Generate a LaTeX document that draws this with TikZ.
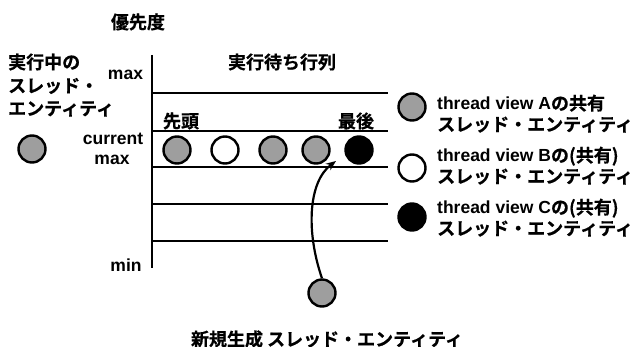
\documentclass[tikz,border=0pt]{standalone}
\usepackage{fontspec}
\setmainfont{Liberation Sans}
\newfontfamily\jp{Noto Sans CJK JP}[BoldFont={* Bold}, BoldFeatures={FakeBold=0.6}]
\usetikzlibrary{arrows.meta}
\begin{document}
\begin{tikzpicture}[x=1pt,y=-1pt,
  lt/.style={inner sep=0pt,font=\bfseries\fontsize{17.5}{20}\selectfont},
  jt/.style={inner sep=0pt,font=\jp\bfseries\fontsize{18}{21}\selectfont},
  ent/.style={circle,draw=black,line width=2.4pt,minimum size=27pt,inner sep=0pt},
  entA/.style={ent,fill=black!38},
  entB/.style={ent,fill=white},
  entC/.style={ent,fill=black},
  rule/.style={line width=2.4pt},
]
\useasboundingbox (0,0) rectangle (637,347);
% axis
\coordinate (axtop) at (152,55);
\coordinate (axbot) at (152,268);
\draw[rule] (axtop) -- (axbot);
\foreach \yy/\nm in {93/l1,131/l2,167/l3,204/l4,241/l5}{
  \coordinate (\nm w) at (152,\yy);
  \coordinate (\nm e) at (388,\yy);
  \draw[rule] (\nm w) -- (\nm e);
}
% texts
\node[jt] (prio) at (138,22) {優先度};
\node[jt,anchor=west] (run1) at (8,62) {実行中の};
\node[jt,anchor=west] (run2) at (8,86) {スレッド・};
\node[jt,anchor=west] (run3) at (8,109) {エンティティ};
\node[jt] (queue) at (282,62) {実行待ち行列};
\node[lt,anchor=base] (maxl) at (125.5,80) {max};
\node[lt,anchor=base] (cur1) at (113,145) {current};
\node[lt,anchor=base] (cur2) at (112,165) {max};
\node[lt,anchor=base] (minl) at (126,272) {min};
\node[jt] (head) at (181,121) {先頭};
\node[jt] (tail) at (356,121) {最後};
% running entity
\node[entA] (running) at (32,149) {};
% queue entities
\node[entA] (q1) at (177,150) {};
\node[entB] (q2) at (225,150) {};
\node[entA] (q3) at (273,150) {};
\node[entA] (q4) at (316,150) {};
\node[entC] (q5) at (359,150) {};
% new entity
\node[entA] (new) at (322,293) {};
\node[jt] (newl) at (327,339) {新規生成 スレッド・エンティティ};
\coordinate (ins) at (336,161);
\draw[line width=2.2pt,-{Stealth[length=10pt,width=8pt]}] (new.north) .. controls (306,232) and (308,182) .. (ins);
% legend
\node[entA] (la) at (412,107) {};
\node[entB] (lb) at (412,168) {};
\node[entC] (lc) at (412,217) {};
\node[anchor=base west,inner sep=0pt] (ta1) at (437,110) {\bfseries\fontsize{17.5}{20}\selectfont thread view A{\jp\bfseries\fontsize{18}{21}\selectfont の共有}};
\node[jt,anchor=base west] (ta2) at (437,131) {スレッド・エンティティ};
\node[anchor=base west,inner sep=0pt] (tb1) at (437,162) {\bfseries\fontsize{17.5}{20}\selectfont thread view B{\jp\bfseries\fontsize{18}{21}\selectfont の(共有)}};
\node[jt,anchor=base west] (tb2) at (437,183) {スレッド・エンティティ};
\node[anchor=base west,inner sep=0pt] (tc1) at (437,214) {\bfseries\fontsize{17.5}{20}\selectfont thread view C{\jp\bfseries\fontsize{18}{21}\selectfont の(共有)}};
\node[jt,anchor=base west] (tc2) at (437,235) {スレッド・エンティティ};
\end{tikzpicture}
\end{document}
